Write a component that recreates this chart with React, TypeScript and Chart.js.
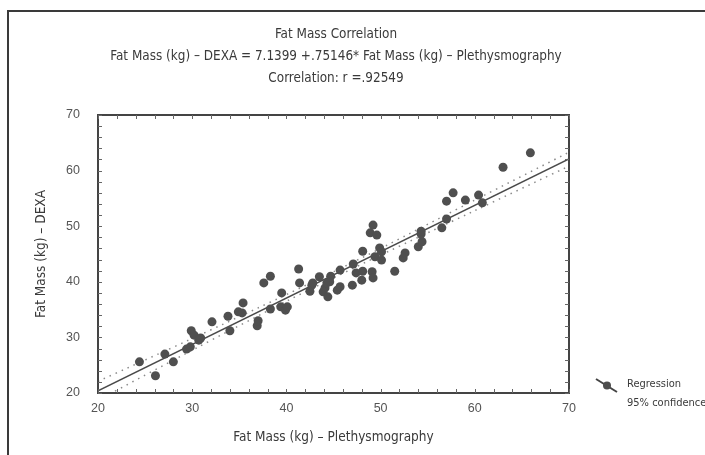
import React, { useEffect, useRef } from "react";
import { Chart, registerables } from "chart.js";

Chart.register(...registerables);

// Fat Mass (kg) – Plethysmography
const xValues = [
  24.4, 26.1, 27.1, 28.0, 29.4, 29.8, 29.9, 30.2, 30.7, 30.9,
  32.1, 33.8, 34.0, 34.9, 35.4, 35.3, 36.9, 37.0, 37.6, 38.3,
  38.3, 39.4, 39.9, 40.1, 39.5, 41.3, 41.4, 42.5, 42.7, 43.5,
  42.8, 44.7, 44.1, 43.9, 44.4, 44.3, 44.6, 45.4, 45.7, 45.7,
  47.0, 47.1, 47.4, 48.1, 48.0, 49.1, 49.2, 48.1, 49.4, 49.9,
  50.1, 50.1, 48.9, 49.6, 49.2, 51.5, 52.4, 52.6, 54.0, 54.4,
  54.3, 54.3, 56.5, 57.0, 57.0, 57.7, 59.0, 60.4, 60.8, 63.0,
  65.9,
];
// Fat Mass (kg) – DEXA
const yValues = [
  25.6, 23.1, 27.0, 25.6, 27.9, 28.3, 31.2, 30.4, 29.5, 29.9,
  32.8, 33.8, 31.2, 34.6, 36.2, 34.4, 32.1, 33.0, 39.8, 41.0,
  35.1, 35.5, 34.9, 35.5, 38.0, 42.3, 39.8, 38.3, 39.4, 40.9,
  39.8, 41.0, 38.9, 38.2, 37.3, 39.8, 40.0, 38.5, 39.1, 42.1,
  39.4, 43.2, 41.6, 41.9, 40.3, 41.8, 40.7, 45.5, 44.5, 46.1,
  45.4, 43.9, 48.8, 48.4, 50.2, 41.9, 44.3, 45.2, 46.3, 47.2,
  48.6, 49.1, 49.7, 51.3, 54.5, 56.0, 54.7, 55.6, 54.2, 60.6,
  63.2,
];

const regX = [20, 70];
const regY = [20.4, 62.1];

const bandX = [20, 30, 40, 45, 50, 60, 70];
const bandUpper = [22.1, 29.8, 37.7, 41.8, 46.0, 54.7, 63.3];
const bandLower = [18.7, 27.7, 36.5, 40.7, 44.8, 52.8, 60.8];

const xTicks = [20, 30, 40, 50, 60, 70];
const yTicks = [20, 30, 40, 50, 60, 70];

const titleLines = [
  "Fat Mass Correlation",
  "Fat Mass (kg) – DEXA = 7.1399 +.75146* Fat Mass (kg) – Plethysmography",
  "Correlation: r =.92549",
];
const xTitle = "Fat Mass (kg) – Plethysmography";
const yTitle = "Fat Mass (kg) – DEXA";
const legendLabels = ["Regression", "95% confidence"];

const NARROW = '"DejaVu Sans Condensed", "Liberation Sans", sans-serif';
const TICKFONT = '"Liberation Sans", Arial, sans-serif';

const decorPlugin = {
  id: "decor",
  afterDraw(chart: any) {
    const ctx = chart.ctx as CanvasRenderingContext2D;
    const { left, right, top, bottom } = chart.chartArea;
    const xs = chart.scales.x;
    const ys = chart.scales.y;
    ctx.save();

    // page frame
    ctx.strokeStyle = "#3a3a3a";
    ctx.lineWidth = 2;
    ctx.beginPath();
    ctx.moveTo(8, 455);
    ctx.lineTo(8, 11);
    ctx.lineTo(705, 11);
    ctx.stroke();

    // plot frame
    ctx.strokeStyle = "#444";
    ctx.lineWidth = 2;
    ctx.strokeRect(left, top, right - left, bottom - top);

    // inward ticks
    ctx.strokeStyle = "#666";
    ctx.lineWidth = 1;
    ctx.beginPath();
    for (let v = xs.min; v <= xs.max + 1e-9; v += 2) {
      const px = Math.round(xs.getPixelForValue(v)) + 0.5;
      ctx.moveTo(px, bottom);
      ctx.lineTo(px, bottom - 4);
      ctx.moveTo(px, top);
      ctx.lineTo(px, top + 4);
    }
    for (let v = ys.min; v <= ys.max + 1e-9; v += 2) {
      const py = Math.round(ys.getPixelForValue(v)) + 0.5;
      ctx.moveTo(left, py);
      ctx.lineTo(left + 4, py);
      ctx.moveTo(right, py);
      ctx.lineTo(right - 4, py);
    }
    ctx.stroke();

    // titles
    ctx.fillStyle = "#3a3a3a";
    ctx.textAlign = "center";
    ctx.textBaseline = "middle";
    ctx.font = `13.4px ${NARROW}`;
    const cx = 336;
    titleLines.forEach((t, i) => ctx.fillText(t, cx, 35 + i * 22));

    // axis titles
    ctx.font = `13.5px ${NARROW}`;
    ctx.fillText(xTitle, (left + right) / 2, 437);
    ctx.save();
    ctx.translate(41, (top + bottom) / 2);
    ctx.rotate(-Math.PI / 2);
    ctx.fillText(yTitle, 0, 0);
    ctx.restore();

    // legend
    ctx.strokeStyle = "#444";
    ctx.lineWidth = 2;
    ctx.beginPath();
    ctx.moveTo(596, 379);
    ctx.lineTo(617, 392);
    ctx.stroke();
    ctx.fillStyle = "#4d4d4d";
    ctx.beginPath();
    ctx.arc(607, 385.5, 4, 0, Math.PI * 2);
    ctx.fill();
    ctx.fillStyle = "#3a3a3a";
    ctx.textAlign = "left";
    ctx.font = `11px ${NARROW}`;
    ctx.fillText(legendLabels[0], 627, 384);
    ctx.fillText(legendLabels[1], 627, 403);

    ctx.restore();
  },
};

export default function App() {
  const ref = useRef<HTMLCanvasElement | null>(null);

  useEffect(() => {
    if (!ref.current) return;
    const points = xValues.map((x, i) => ({ x, y: yValues[i] }));
    const reg = regX.map((x, i) => ({ x, y: regY[i] }));
    const up = bandX.map((x, i) => ({ x, y: bandUpper[i] }));
    const lo = bandX.map((x, i) => ({ x, y: bandLower[i] }));

    const chart = new Chart(ref.current, {
      type: "scatter",
      data: {
        datasets: [
          {
            label: "upper",
            data: up,
            showLine: true,
            pointRadius: 0,
            borderColor: "#8a8a8a",
            borderWidth: 1.5,
            borderDash: [1.5, 5],
            tension: 0.3,
            order: 3,
          },
          {
            label: "lower",
            data: lo,
            showLine: true,
            pointRadius: 0,
            borderColor: "#8a8a8a",
            borderWidth: 1.5,
            borderDash: [1.5, 5],
            tension: 0.3,
            order: 3,
          },
          {
            label: "Regression",
            data: reg,
            showLine: true,
            pointRadius: 0,
            borderColor: "#4a4a4a",
            borderWidth: 1.5,
            order: 2,
          },
          {
            label: "data",
            data: points,
            pointRadius: 4.5,
            pointBackgroundColor: "#4f4f4f",
            pointBorderWidth: 0,
            borderWidth: 0,
            order: 1,
          },
        ],
      },
      options: {
        responsive: false,
        animation: false,
        events: [],
        layout: { padding: { left: 0, right: 136, top: 115, bottom: 0 } },
        plugins: {
          legend: { display: false },
          title: { display: false },
          tooltip: { enabled: false },
        },
        scales: {
          x: {
            type: "linear",
            min: 20,
            max: 70,
            grid: { display: false, drawTicks: false },
            border: { display: false },
            ticks: {
              color: "#555",
              font: { family: TICKFONT, size: 12.5 },
              padding: 8,
            },
            afterBuildTicks: (s: any) => {
              s.ticks = xTicks.map((v) => ({ value: v }));
            },
            afterFit: (s: any) => {
              s.height = 62;
            },
          },
          y: {
            type: "linear",
            min: 20,
            max: 70,
            grid: { display: false, drawTicks: false },
            border: { display: false },
            ticks: {
              color: "#555",
              font: { family: TICKFONT, size: 12.5 },
              padding: 18,
            },
            afterBuildTicks: (s: any) => {
              s.ticks = yTicks.map((v) => ({ value: v }));
            },
            afterFit: (s: any) => {
              s.width = 98;
            },
          },
        },
      },
      plugins: [decorPlugin],
    });
    return () => chart.destroy();
  }, []);

  return (
    <div style={{ position: "fixed", left: 0, top: 0, width: 705, height: 455, background: "#fff" }}>
      <canvas ref={ref} width={705} height={455} style={{ display: "block", width: 705, height: 455 }} />
    </div>
  );
}
